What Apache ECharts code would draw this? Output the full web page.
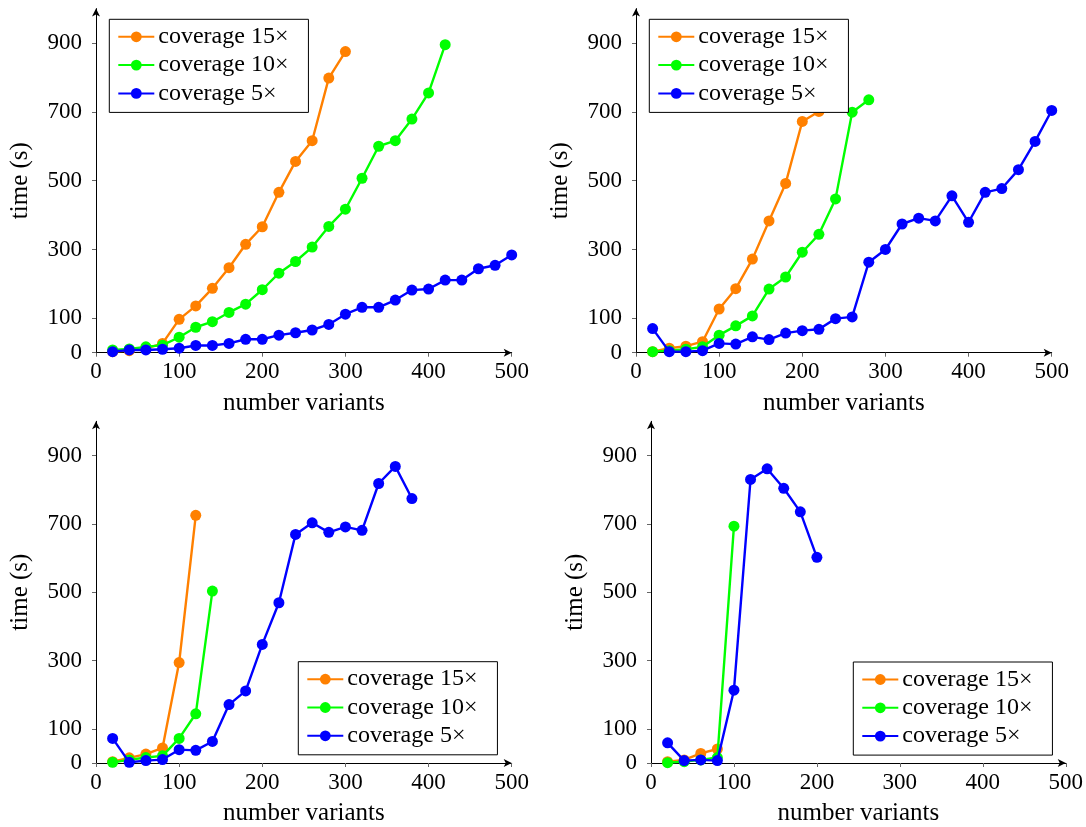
<!DOCTYPE html>
<html>
<head>
<meta charset="utf-8">
<script src="https://cdn.jsdelivr.net/npm/echarts@6/dist/echarts.min.js"></script>
<style>
html,body{margin:0;padding:0;background:#fff;}
#main{width:1086px;height:827px;}
</style>
</head>
<body>
<div id="main"></div>
<script>
// x values (number of variants)
const variants = [20,40,60,80,100,120,140,160,180,200,220,240,260,280,300,320,340,360,380,400,420,440,460,480,500];
const yTicks = [0,100,300,500,700,900];
const xTicks = [0,100,200,300,400,500];
const seriesNames = ['coverage 15\u00d7','coverage 10\u00d7','coverage 5\u00d7'];

// Panel 1 (top-left)
const p1_cov15 = [3,6,12,27,97,136,187,247,315,366,466,556,616,798,875];
const p1_cov10 = [8,11,17,22,45,74,90,117,141,183,231,265,307,367,417,507,600,616,679,755,895];
const p1_cov5  = [3,8,8,10,13,21,21,27,39,39,51,58,66,82,112,132,132,153,182,185,211,211,244,254,284];
// Panel 2 (top-right)
const p2_cov15 = [3,13,19,32,127,186,272,383,492,672,701];
const p2_cov10 = [3,6,10,17,51,78,107,185,220,292,344,447,699,735];
const p2_cov5  = [70,3,3,6,27,25,46,38,57,64,68,99,104,263,300,374,391,383,456,379,466,477,532,614,704];
// Panel 3 (bottom-left)
const p3_cov15 = [4,15,26,44,294,725];
const p3_cov10 = [2,9,16,21,72,144,503];
const p3_cov5  = [72,2,7,10,39,37,63,171,211,347,469,669,703,675,691,681,818,868,774];
// Panel 4 (bottom-right)
const p4_cov15 = [4,9,28,41];
const p4_cov10 = [1,4,9,16,693];
const p4_cov5  = [59,7,9,7,213,830,861,804,735,602];

const panels = [
  [p1_cov15, p1_cov10, p1_cov5],
  [p2_cov15, p2_cov10, p2_cov5],
  [p3_cov15, p3_cov10, p3_cov5],
  [p4_cov15, p4_cov10, p4_cov5]
];
const colors = ['#ff8000','#00ff00','#0000ff'];

const FONT = 'Liberation Serif';
const FS = 23;
const FS_NAME = 25;
const FS_LEG = 24;

const grids = [
  {left:96, top:8.6, width:415.7, height:344.1},
  {left:636, top:8.6, width:415.7, height:344.1},
  {left:96, top:421.3, width:415.7, height:344.4},
  {left:651, top:421.3, width:415, height:344.4}
];
const legendPos = [
  {left:109.3, top:19.3},
  {left:649.3, top:19.3},
  {left:298.3, top:661.7},
  {left:853.3, top:662}
];

const xAxes = [], yAxes = [], series = [], legends = [];
grids.forEach((g, i) => {
  xAxes.push({
    type:'value', gridIndex:i, min:0, max:500, interval:100,
    name:'number variants', nameLocation:'middle', nameGap:38,
    nameTextStyle:{fontFamily:FONT, fontSize:FS_NAME, color:'#000'},
    axisLine:{show:true, onZero:false, symbol:['none','arrow'], symbolSize:[6,8], lineStyle:{color:'#000', width:1}},
    axisTick:{show:true, length:4, customValues:xTicks, lineStyle:{color:'#666'}},
    axisLabel:{fontFamily:FONT, fontSize:FS, color:'#000', margin:8, customValues:xTicks},
    splitLine:{show:false}
  });
  yAxes.push({
    type:'value', gridIndex:i, min:0, max:1000, interval:100,
    name:'time (s)', nameLocation:'middle', nameGap:63, nameRotate:90,
    nameTextStyle:{fontFamily:FONT, fontSize:FS_NAME, color:'#000'},
    axisLine:{show:true, onZero:false, symbol:['none','arrow'], symbolSize:[6,8], lineStyle:{color:'#000', width:1}},
    axisTick:{show:true, length:4, customValues:yTicks, lineStyle:{color:'#666'}},
    axisLabel:{fontFamily:FONT, fontSize:FS, color:'#000', margin:14, customValues:yTicks},
    splitLine:{show:false}
  });
  panels[i].forEach((vals, k) => {
    series.push({
      type:'line', name:seriesNames[k], xAxisIndex:i, yAxisIndex:i,
      data: vals.map((v, j) => [variants[j], v]),
      symbol:'circle', symbolSize:11, showSymbol:true,
      lineStyle:{color:colors[k], width:2.4},
      itemStyle:{color:colors[k]},
      z: 2 + k,
      animation:false
    });
  });
  legends.push({
    orient:'vertical', left:legendPos[i].left, top:legendPos[i].top,
    data: seriesNames,
    itemWidth:36, itemHeight:13.5, itemGap:4.3,
    padding:[5.5, 20, 7, 8],
    backgroundColor:'#fff', borderColor:'#000', borderWidth:1, borderRadius:0,
    textStyle:{fontFamily:FONT, fontSize:FS_LEG, color:'#000', lineHeight:24, padding:[0,0,0,-1]},
    selectedMode:false,
    z:10
  });
});

const chart = echarts.init(document.getElementById('main'), null, {renderer:'canvas'});
chart.setOption({
  animation:false,
  backgroundColor:'#fff',
  grid: grids.map(g => Object.assign({containLabel:false}, g)),
  xAxis: xAxes,
  yAxis: yAxes,
  legend: legends,
  series: series
});
</script>
</body>
</html>
